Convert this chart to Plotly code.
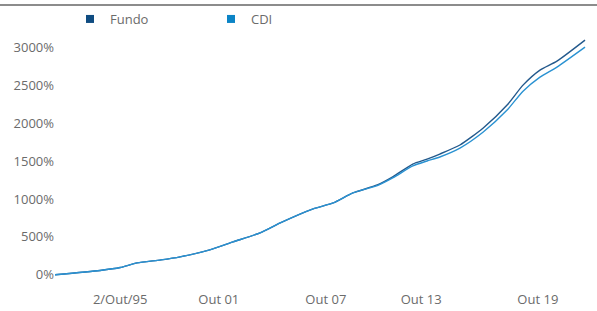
import plotly.graph_objects as go

# Time position (relative units along the period axis)
period = [0, 8.5, 12.3, 15.5, 20.0, 23.6, 29.2, 33.6, 38.7, 42.5, 48.7, 52.5, 56.2,
          60.8, 63.8, 67.5, 70.2, 72.6, 76.4, 80.8, 85.3, 88.3, 91.5, 94.7, 100]

fundo = [0, 57, 96, 158, 197, 237, 329, 434, 553, 684, 869, 948, 1079,
         1184, 1295, 1460, 1525, 1592, 1711, 1935, 2237, 2500, 2698, 2816, 3093]

cdi = [0, 57, 96, 158, 197, 237, 329, 434, 553, 684, 869, 948, 1079,
       1175, 1280, 1435, 1500, 1553, 1670, 1882, 2171, 2420, 2606, 2737, 3000]

x_tick_pos = [12.3, 30.9, 51.1, 69.1, 91.1]
x_tick_labels = ["2/Out/95", "Out 01", "Out 07", "Out 13", "Out 19"]

y_tick_vals = [0, 500, 1000, 1500, 2000, 2500, 3000]
y_tick_labels = [f"{v}%" for v in y_tick_vals]

FUNDO_LINE = "#23598c"
CDI_LINE = "#2a92d2"
FUNDO_KEY = "#0f4c81"
CDI_KEY = "#0b84c6"
TEXT = "#6b6b6b"

fig = go.Figure()
fig.add_trace(go.Scatter(x=period, y=fundo, mode="lines", name="Fundo",
                         line=dict(color=FUNDO_LINE, width=1.4, shape="spline", smoothing=0.6),
                         showlegend=False))
fig.add_trace(go.Scatter(x=period, y=cdi, mode="lines", name="CDI",
                         line=dict(color=CDI_LINE, width=1.4, shape="spline", smoothing=0.6),
                         showlegend=False))
# legend keys (square markers)
fig.add_trace(go.Scatter(x=[None], y=[None], mode="markers", name="Fundo",
                         marker=dict(symbol="square", size=8, color=FUNDO_KEY)))
fig.add_trace(go.Scatter(x=[None], y=[None], mode="markers", name="CDI",
                         marker=dict(symbol="square", size=8, color=CDI_KEY)))

fig.update_layout(
    width=597, height=311,
    margin=dict(l=55, r=7, t=32, b=21, autoexpand=False),
    paper_bgcolor="white", plot_bgcolor="white",
    font=dict(family="Open Sans, sans-serif", size=13, color=TEXT),
    legend=dict(orientation="h", x=70/597, xanchor="left", xref="container",
                y=1 - 4/311, yref="container", yanchor="top",
                entrywidth=96, itemwidth=30,
                font=dict(size=13, color=TEXT), bgcolor="rgba(0,0,0,0)"),
    showlegend=True,
    xaxis=dict(range=[0, 100.94], tickmode="array", tickvals=x_tick_pos,
               ticktext=x_tick_labels, showgrid=False, zeroline=False,
               showline=False, ticks="", tickfont=dict(size=13, color=TEXT)),
    yaxis=dict(range=[-200, 3200], tickmode="array", tickvals=y_tick_vals,
               ticktext=y_tick_labels, showgrid=False, zeroline=False,
               showline=False, ticks="", tickfont=dict(size=13, color=TEXT)),
    shapes=[dict(type="line", xref="paper", yref="paper",
                 x0=-0.2, x1=1.2, y0=1 + 27/258.4, y1=1 + 27/258.4,
                 line=dict(color="#8c8c8c", width=2))],
)

fig.write_html("out.html", config={"displayModeBar": False},
               post_script="document.body.style.margin='0';document.body.style.overflow='hidden';")
